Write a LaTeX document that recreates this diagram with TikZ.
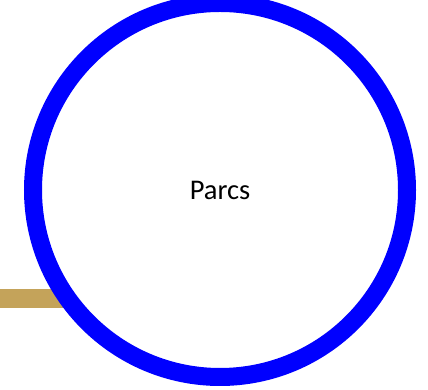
\documentclass[tikz,border=0pt]{standalone}
\usepackage{fontspec}
\setmainfont{Carlito}
\begin{document}
\begin{tikzpicture}[x=1pt,y=1pt,
  goldbar/.style={fill={rgb,255:red,196;green,163;blue,90},draw=none},
  ring/.style={circle,draw={rgb,255:red,0;green,0;blue,255},line width=18pt,fill=white,minimum size=374pt,inner sep=0pt,font=\fontsize{28.5}{34}\selectfont}]
\useasboundingbox (0,0) rectangle (428,390);
\fill[white] (0,0) rectangle (428,390);
\path[goldbar] (0,82) rectangle (80,101);
\node[ring] (parcs) at (220,200) {Parcs};
\end{tikzpicture}
\end{document}
